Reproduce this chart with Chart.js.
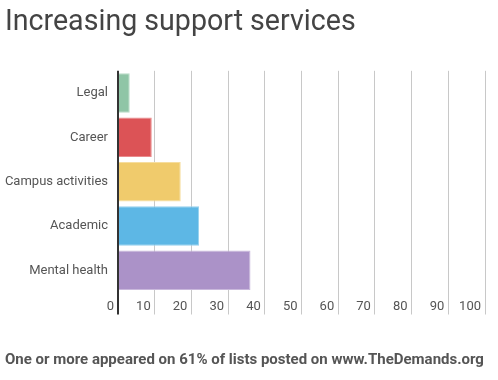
<!DOCTYPE html>
<html>
<head>
<meta charset="utf-8">
<script src="https://cdn.jsdelivr.net/npm/chart.js@4/dist/chart.umd.min.js"></script>
<style>
  html, body { margin: 0; padding: 0; background: #fff; }
  #wrap { width: 498px; height: 380px; }
</style>
</head>
<body>
<div id="wrap"><canvas id="c" width="498" height="380"></canvas></div>
<script>
const categories = ["Legal", "Career", "Campus activities", "Academic", "Mental health"];
const values = [3.2, 9.2, 17.1, 22.1, 36.1];
const barColors = ["#8fc5a6", "#dc5356", "#f0cb6c", "#5db7e5", "#ab92c8"];
const barBorders = ["#b8dcc7", "#e98a8c", "#f6dd9e", "#96d0ee", "#c9b8dc"];
const xTickValues = [0, 10, 20, 30, 40, 50, 60, 70, 80, 90, 100];
const titleText = "Increasing support services";
const footerText = "One or more appeared on 61% of lists posted on www.TheDemands.org";

new Chart(document.getElementById('c'), {
  type: 'bar',
  data: {
    labels: categories,
    datasets: [{
      data: values,
      backgroundColor: barColors,
      borderColor: barBorders,
      borderWidth: 1,
      borderSkipped: 'start',
      categoryPercentage: 1,
      barPercentage: 0.89
    }]
  },
  options: {
    indexAxis: 'y',
    responsive: false,
    animation: false,
    devicePixelRatio: 1,
    layout: { padding: { left: 5, right: 13, top: 0, bottom: 0 } },
    plugins: {
      legend: { display: false },
      tooltip: { enabled: false },
      title: {
        display: true,
        text: titleText,
        align: 'start',
        color: '#444',
        font: { family: 'Roboto', size: 28.6, weight: 'normal' },
        padding: { top: 6, bottom: 30.5 }
      },
      subtitle: {
        display: true,
        position: 'bottom',
        text: footerText,
        align: 'start',
        color: '#555',
        font: { family: 'Roboto', size: 15, weight: 'bold' },
        padding: { top: 28.5, bottom: 11 }
      }
    },
    scales: {
      x: {
        type: 'linear',
        min: xTickValues[0],
        max: xTickValues[xTickValues.length - 1],
        border: { display: false },
        afterFit: (scale) => { scale.height = 30; },
        grid: {
          drawTicks: true,
          tickLength: 22,
          color: (ctx) => ctx.tick && ctx.tick.value === 0 ? '#333' : '#c8c8c8',
          tickColor: (ctx) => ctx.tick && ctx.tick.value === 0 ? '#333' : '#c8c8c8',
          lineWidth: (ctx) => ctx.tick && ctx.tick.value === 0 ? 2 : 1
        },
        ticks: {
          stepSize: xTickValues[1] - xTickValues[0],
          callback: (v) => xTickValues.includes(v) ? String(v) : '',
          align: 'end',
          labelOffset: -4,
          padding: -16,
          maxRotation: 0,
          autoSkip: false,
          color: '#555',
          font: { family: 'Roboto', size: 13 }
        }
      },
      y: {
        border: { display: false },
        grid: { display: false, drawTicks: false },
        afterFit: (scale) => { scale.width = 113; },
        ticks: {
          padding: 10,
          color: '#555',
          font: { family: 'Roboto', size: 13 }
        }
      }
    }
  }
});
</script>
</body>
</html>
